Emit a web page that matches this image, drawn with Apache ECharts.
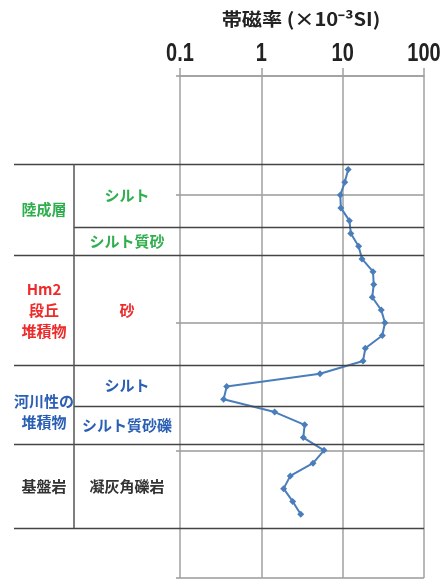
<!DOCTYPE html>
<html lang="ja">
<head>
<meta charset="UTF-8">
<title>帯磁率</title>
<script src="https://cdn.jsdelivr.net/npm/echarts@6/dist/echarts.min.js"></script>
<style>
  html, body { margin: 0; padding: 0; background: #fff; }
  #chart { width: 443px; height: 581px; }
</style>
</head>
<body>
<div id="chart"></div>
<script>
// 深度 (相対) と帯磁率 (×10^-3 SI)
var depths = [8, 9, 10, 11, 12, 13, 14, 15, 16, 17, 18, 19, 20, 21,
              22, 23, 24, 25, 26, 27, 28, 29, 30, 31, 32, 33, 34, 35];
var values = [11.7, 10.6, 9.35, 9.5, 12.1, 12.6, 15.7, 17.3, 23.6, 24.1, 23.1, 29.8, 33.1, 30.7,
              19.0, 17.8, 5.26, 0.375, 0.344, 1.46, 3.41, 3.28, 5.90, 4.32, 2.27, 1.88, 2.43, 3.05];
var xTicks = [0.1, 1, 10, 100];
var xTickLabels = ['0.1', '1', '10', '100'];

// 地層区分 (深度の境界)
var mainBounds = [7.6, 14.7, 23.3, 29.5, 36.1];
var subBounds = [12.5, 26.5];
var units = [
  { text: '陸成層', color: '#2fae4e', top: 7.6, bottom: 14.7 },
  { text: 'Hm2\n段丘\n堆積物', color: '#ee2a2a', top: 14.7, bottom: 23.3 },
  { text: '河川性の\n堆積物', color: '#2b5fb4', top: 23.3, bottom: 29.5, shift: 7 },
  { text: '基盤岩', color: '#333333', top: 29.5, bottom: 36.1 }
];
var facies = [
  { text: 'シルト', color: '#2fae4e', top: 7.6, bottom: 12.5 },
  { text: 'シルト質砂', color: '#2fae4e', top: 12.5, bottom: 14.7 },
  { text: '砂', color: '#ee2a2a', top: 14.7, bottom: 23.3 },
  { text: 'シルト', color: '#2b5fb4', top: 23.3, bottom: 26.5 },
  { text: 'シルト質砂礫', color: '#2b5fb4', top: 26.5, bottom: 29.5 },
  { text: '凝灰角礫岩', color: '#333333', top: 29.5, bottom: 36.1 }
];

var cjk = '"Noto Sans CJK JP", sans-serif';
var chart = echarts.init(document.getElementById('chart'));

var option = {
  animation: false,
  grid: { left: 180, right: 19, top: 76, bottom: 3, containLabel: false, outerBoundsMode: 'none' },
  xAxis: {
    type: 'log',
    logBase: 10,
    min: 0.1,
    max: 100,
    position: 'top',
    axisLine: { show: true, lineStyle: { color: '#a0a0a0', width: 1.5 } },
    axisTick: { show: true, inside: false, length: 8, lineStyle: { color: '#a0a0a0', width: 1.5 } },
    axisLabel: { show: false },
    splitLine: { show: true, lineStyle: { color: '#a0a0a0', width: 1.5 } }
  },
  yAxis: {
    type: 'value',
    inverse: true,
    min: 0.667,
    max: 40,
    axisLine: { show: false },
    axisTick: { show: true, length: 4, lineStyle: { color: '#9a9a9a', width: 1.5 } },
    axisLabel: { show: false },
    splitLine: { show: true, lineStyle: { color: '#9a9a9a', width: 1.5 } }
  },
  series: [{
    type: 'line',
    data: depths.map(function (d, i) { return [values[i], d]; }),
    symbol: 'diamond',
    symbolSize: 7,
    lineStyle: { color: '#4a7ebb', width: 2 },
    itemStyle: { color: '#4a7ebb' },
    z: 5
  }]
};
chart.setOption(option);

// 表の罫線と地層名
function py(d) { return chart.convertToPixel({ yAxisIndex: 0 }, d); }
function px(v) { return chart.convertToPixel({ xAxisIndex: 0 }, v); }
var xLeft = 14, xSep = 74, xRight = 424;
var g = [];
mainBounds.forEach(function (d) {
  var y = Math.round(py(d)) + 0.5;
  g.push({ type: 'line', shape: { x1: xLeft, y1: y, x2: xRight, y2: y },
           style: { stroke: '#444', lineWidth: 1.5 }, z: 10 });
});
subBounds.forEach(function (d) {
  var y = Math.round(py(d)) + 0.5;
  g.push({ type: 'line', shape: { x1: xSep, y1: y, x2: xRight, y2: y },
           style: { stroke: '#444', lineWidth: 1.5 }, z: 10 });
});
g.push({ type: 'line',
         shape: { x1: xSep, y1: py(mainBounds[0]), x2: xSep, y2: py(mainBounds[mainBounds.length - 1]) },
         style: { stroke: '#555', lineWidth: 1.5 }, z: 10 });
units.forEach(function (u) {
  g.push({ type: 'text', x: (xLeft + xSep) / 2, y: (py(u.top) + py(u.bottom)) / 2 + (u.shift || 0),
           style: { text: u.text, fill: u.color, font: 'bold 15px ' + cjk,
                    align: 'center', verticalAlign: 'middle', lineHeight: 21 }, z: 11 });
});
facies.forEach(function (f) {
  g.push({ type: 'text', x: 127, y: (py(f.top) + py(f.bottom)) / 2,
           style: { text: f.text, fill: f.color, font: 'bold 15px ' + cjk,
                    align: 'center', verticalAlign: 'middle' }, z: 11 });
});
// 横軸の目盛ラベル (縦に少し伸ばした字形)
xTicks.forEach(function (v, i) {
  g.push({ type: 'text', x: px(v), y: 54, scaleY: 1.25,
           style: { text: xTickLabels[i], fill: '#222',
                    font: 'bold 20px "Liberation Sans", Arial, sans-serif',
                    align: 'center', verticalAlign: 'middle' } });
});
g.push({ type: 'text', x: 301, y: 19, scaleX: 1.12,
         style: { text: '帯磁率 (×10⁻³SI)', fill: '#222', font: 'bold 18px ' + cjk,
                  align: 'center', verticalAlign: 'middle' } });
chart.setOption({ graphic: g });
</script>
</body>
</html>
